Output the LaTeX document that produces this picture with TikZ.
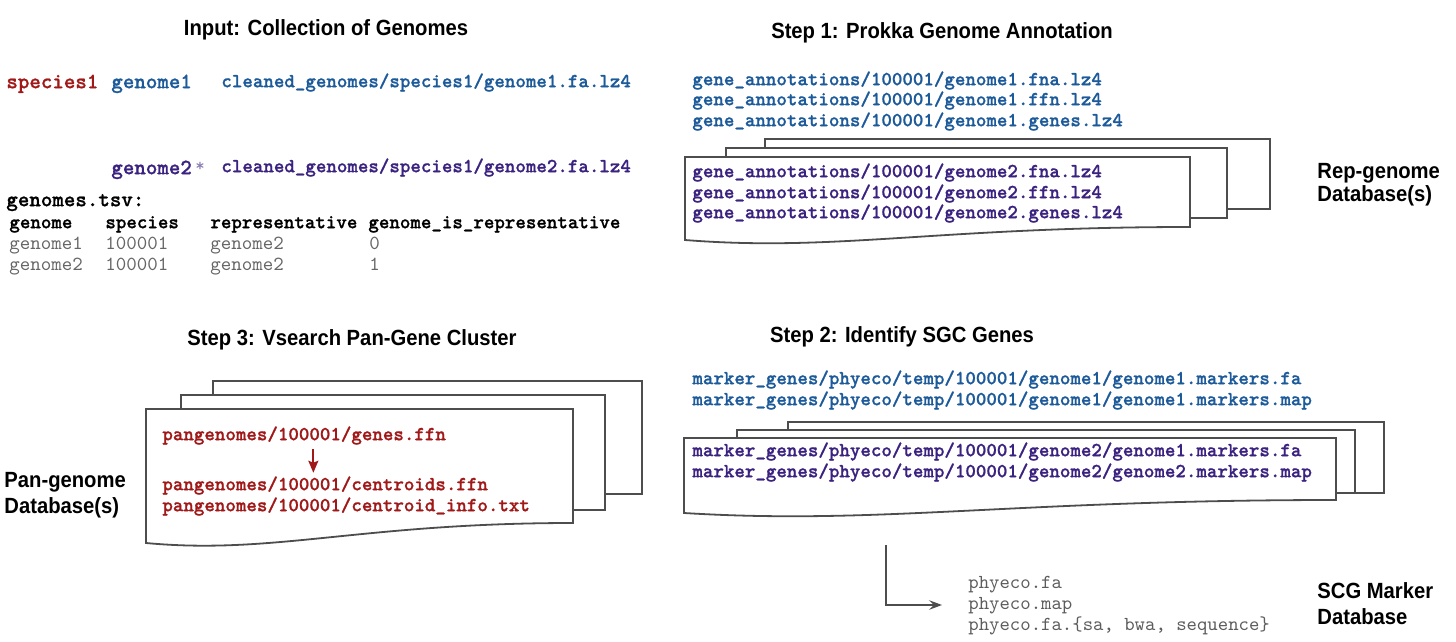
\documentclass[tikz,border=0pt]{standalone}
\usepackage{fontspec}
\setmainfont{Liberation Sans}
\newfontfamily\headfont[FakeStretch=0.92]{Liberation Sans}
\newfontfamily\codebf[FakeBold=0.9]{lmmonolt10-bold.otf}
\usetikzlibrary{arrows.meta,calc}
\definecolor{redC}{HTML}{A01818}
\definecolor{blueC}{HTML}{1C5A9A}
\definecolor{purpC}{HTML}{3B2280}
\definecolor{greyC}{HTML}{666666}
\definecolor{lineC}{HTML}{4D4D4D}
\begin{document}
\begin{tikzpicture}[x=0.5pt,y=-0.5pt,
  head/.style={font=\headfont\bfseries\fontsize{11}{13}\selectfont, inner sep=0pt},
  lab/.style={head, anchor=west},
  mono/.style={font=\codebf\fontsize{10}{11}\selectfont, anchor=west, inner sep=0pt, text height=1.05ex, text depth=0.25ex},
  bigmono/.style={font=\codebf\fontsize{10.95}{12}\selectfont, anchor=west, inner sep=0pt, text height=1.05ex, text depth=0.25ex},
  bluetxt/.style={mono, text=blueC},
  purptxt/.style={mono, text=purpC},
  redtxt/.style={mono, text=redC},
  rowtxt/.style={font=\ttfamily\fontsize{10}{11}\selectfont, text=greyC, anchor=west, inner sep=0pt, text height=1.05ex, text depth=0.25ex},
  hdrtxt/.style={mono, text=black},
  outtxt/.style={font=\ttfamily\fontsize{9.9}{11}\selectfont, text=greyC!90!black, anchor=west, inner sep=0pt, text height=1.05ex, text depth=0.25ex},
  sheet/.style={draw=lineC, line width=0.9pt, fill=white},
  redarr/.style={draw=redC, line width=0.9pt, -{Stealth[length=6pt,width=5pt,inset=1pt]}},
  greyarr/.style={draw=lineC, line width=0.9pt, -{Stealth[length=6.5pt,width=4.8pt,inset=2.5pt]}}
]
\useasboundingbox (0,0) rectangle (1456,642);

% ---------- Input ----------
\node[head] (t0) at (326,30) {Input: Collection of Genomes};
\node[bigmono, text=redC] (sp1) at (6,84) {species1};
\node[bigmono, text=blueC] (g1) at (111,84) {genome1};
\node[bluetxt] (p1) at (221,83) {cleaned\_genomes/species1/genome1.fa.lz4};
\node[bigmono, text=purpC] (g2) at (111,170) {genome2};
\node[font=\ttfamily\fontsize{9}{10}\selectfont, text=purpC!60, anchor=west, inner sep=0pt] (ast) at (195,167) {*};
\node[purptxt] (p2) at (221,168) {cleaned\_genomes/species1/genome2.fa.lz4};
\node[bigmono, text=black] (tsv) at (6,202) {genomes.tsv:};
\node[hdrtxt] (h1) at (9,224) {genome};
\node[hdrtxt] (h2) at (105,224) {species};
\node[hdrtxt] (h3) at (210,224) {representative};
\node[hdrtxt] (h4) at (368,224) {genome\_is\_representative};
\node[rowtxt] (r11) at (9,245) {genome1};
\node[rowtxt] (r12) at (105,245) {100001};
\node[rowtxt] (r13) at (210,245) {genome2};
\node[rowtxt] (r14) at (369,245) {0};
\node[rowtxt] (r21) at (9,266) {genome2};
\node[rowtxt] (r22) at (105,266) {100001};
\node[rowtxt] (r23) at (210,266) {genome2};
\node[rowtxt] (r24) at (369,266) {1};

% ---------- Step 1 ----------
\node[head] (t1) at (942,33) {Step 1: Prokka Genome Annotation};
\node[bluetxt] (a1) at (692,81) {gene\_annotations/100001/genome1.fna.lz4};
\node[bluetxt] (a2) at (692,101) {gene\_annotations/100001/genome1.ffn.lz4};
\node[bluetxt] (a3) at (692,122) {gene\_annotations/100001/genome1.genes.lz4};
\draw[sheet] (765,139) rectangle (1270,209);
\draw[sheet] (726,148) rectangle (1227,218);
\draw[sheet] (685,157) -- (1190,157) -- (1190,227)
  .. controls (937,227) and (836,252) .. (685,240) -- cycle;
\node[purptxt] (b1) at (692,173) {gene\_annotations/100001/genome2.fna.lz4};
\node[purptxt] (b2) at (692,194) {gene\_annotations/100001/genome2.ffn.lz4};
\node[purptxt] (b3) at (692,214) {gene\_annotations/100001/genome2.genes.lz4};
\node[lab] (rep1) at (1317,173) {Rep-genome};
\node[lab] (rep2) at (1317,196) {Database(s)};

% ---------- Step 3 ----------
\node[head] (t3) at (352,340) {Step 3: Vsearch Pan-Gene Cluster};
\draw[sheet] (213,381) rectangle (642,494);
\draw[sheet] (181,395) rectangle (605,510);
\draw[sheet] (146,409) -- (573,409) -- (573,523)
  .. controls (360,523) and (274,555) .. (146,543) -- cycle;
\node[redtxt] (genes) at (162,436) {pangenomes/100001/genes.ffn};
\node[redtxt] (cent) at (162,486) {pangenomes/100001/centroids.ffn};
\node[redtxt] (cinfo) at (162,507) {pangenomes/100001/centroid\_info.txt};
\draw[redarr] ([xshift=4.6pt,yshift=-3pt]genes.south) -- ([xshift=4.6pt,yshift=3pt]genes.south |- cent.north);
\node[lab] (pan1) at (4,482) {Pan-genome};
\node[lab] (pan2) at (4,508) {Database(s)};

% ---------- Step 2 ----------
\node[head] (t2) at (902,337) {Step 2: Identify SGC Genes};
\node[bluetxt] (m1) at (692,380) {marker\_genes/phyeco/temp/100001/genome1/genome1.markers.fa};
\node[bluetxt] (m2) at (692,401) {marker\_genes/phyeco/temp/100001/genome1/genome1.markers.map};
\draw[sheet] (788,422) rectangle (1384,493);
\draw[sheet] (737,430) rectangle (1355,493);
\draw[sheet] (684,438) -- (1336,438) -- (1336,500)
  .. controls (1010,500) and (880,525) .. (684,513) -- cycle;
\node[purptxt] (n1) at (692,452) {marker\_genes/phyeco/temp/100001/genome2/genome1.markers.fa};
\node[purptxt] (n2) at (692,473) {marker\_genes/phyeco/temp/100001/genome2/genome2.markers.map};
\coordinate (elb) at (886,545);
\node[outtxt] (o1) at (968,584) {phyeco.fa};
\node[outtxt] (o2) at (968,605) {phyeco.map};
\node[outtxt] (o3) at (968,626) {phyeco.fa.\{sa, bwa, sequence\}};
\draw[greyarr] (elb) |- ([xshift=-13pt]o2.west);
\node[lab] (scg1) at (1317,591) {SCG Marker};
\node[lab] (scg2) at (1317,617) {Database};
\end{tikzpicture}
\end{document}
